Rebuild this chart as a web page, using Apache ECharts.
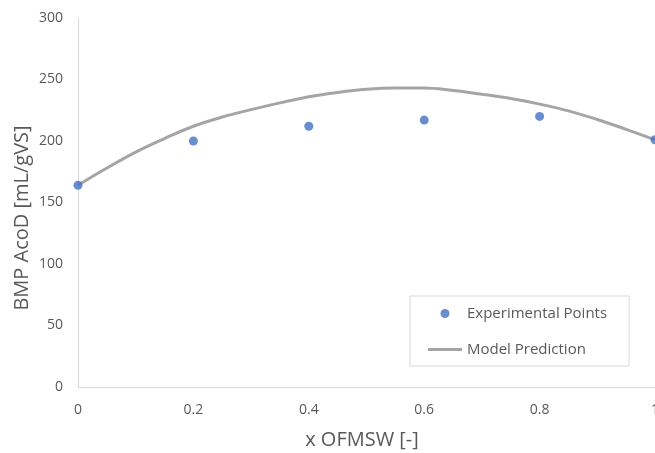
<!DOCTYPE html>
<html>
<head>
<meta charset="utf-8">
<title>BMP AcoD vs x OFMSW</title>
<script src="https://cdn.jsdelivr.net/npm/echarts@6/dist/echarts.min.js"></script>
<style>
  html, body { margin: 0; padding: 0; background: #ffffff; }
  #chart { width: 655px; height: 453px; }
</style>
</head>
<body>
<div id="chart"></div>
<script>
// Measured BMP of the co-digestion mixtures
const expX = [0, 0.2, 0.4, 0.6, 0.8, 1];
const expY = [164, 200, 212, 217, 220, 201];

// Model curve, sampled every 0.05 of the OFMSW fraction
const modelX = [0, 0.05, 0.1, 0.15, 0.2, 0.25, 0.3, 0.35, 0.4, 0.45, 0.5,
                0.55, 0.6, 0.65, 0.7, 0.75, 0.8, 0.85, 0.9, 0.95, 1];
const modelY = [164, 178, 191, 202, 212, 219.5, 225.5, 231, 236, 239.5, 242,
                243, 243, 241, 238, 234.5, 230, 224.5, 217.5, 209.5, 201];

const seriesNames = ['Experimental Points', 'Model Prediction'];
const xTitle = 'x OFMSW [-]';
const yTitle = 'BMP AcoD [mL/gVS]';

const FONT = '"Open Sans", "Liberation Sans", sans-serif';
const TEXT = '#595959';
const AXIS = '#d9d9d9';
const BLUE = '#4472c4';
const GREY = '#a5a5a5';

const chart = echarts.init(document.getElementById('chart'), null, { renderer: 'canvas' });

chart.setOption({
  backgroundColor: '#ffffff',
  animation: false,
  textStyle: { fontFamily: FONT, color: TEXT },
  grid: { left: 78, right: 0, top: 18, bottom: 66, containLabel: false, outerBoundsMode: 'none' },
  xAxis: {
    type: 'value',
    min: 0, max: 1, interval: 0.2,
    axisLine: { show: true, lineStyle: { color: AXIS, width: 1 } },
    axisTick: { show: false },
    splitLine: { show: false },
    axisLabel: { color: TEXT, fontSize: 14, fontFamily: FONT, margin: 16, hideOverlap: false }
  },
  yAxis: {
    type: 'value',
    min: 0, max: 300, interval: 50,
    axisLine: { show: true, lineStyle: { color: AXIS, width: 1 } },
    axisTick: { show: false },
    splitLine: { show: false },
    axisLabel: { color: TEXT, fontSize: 14, fontFamily: FONT, margin: 15 }
  },
  legend: {
    orient: 'vertical',
    left: 410, top: 296,
    padding: [10, 22, 9, 18],
    itemGap: 21,
    itemWidth: 34, itemHeight: 9,
    itemTextGap: 3,
    borderColor: AXIS, borderWidth: 1,
    backgroundColor: '#ffffff',
    textStyle: { color: TEXT, fontSize: 15, fontFamily: FONT },
    data: [
      { name: seriesNames[0], icon: 'circle', itemStyle: { color: BLUE } },
      { name: seriesNames[1], icon: 'path://M0,0 L34,0 L34,3 L0,3 Z', itemStyle: { color: GREY } }
    ]
  },
  graphic: [
    {
      type: 'text',
      x: 362, y: 440,
      style: {
        text: xTitle, fill: TEXT, fontSize: 20, fontFamily: FONT,
        align: 'center', verticalAlign: 'middle'
      }
    },
    {
      type: 'text',
      x: 22, y: 218, rotation: Math.PI / 2,
      style: {
        text: yTitle, fill: TEXT, fontSize: 20, fontFamily: FONT,
        align: 'center', verticalAlign: 'middle'
      }
    }
  ],
  series: [
    {
      name: seriesNames[1],
      type: 'line',
      data: modelX.map((x, i) => [x, modelY[i]]),
      smooth: 0.4,
      symbol: 'none',
      lineStyle: { color: GREY, width: 3 },
      itemStyle: { color: GREY },
      z: 2
    },
    {
      name: seriesNames[0],
      type: 'scatter',
      data: expX.map((x, i) => [x, expY[i]]),
      symbol: 'circle',
      symbolSize: 9,
      itemStyle: { color: BLUE },
      z: 3
    }
  ]
});
</script>
</body>
</html>
